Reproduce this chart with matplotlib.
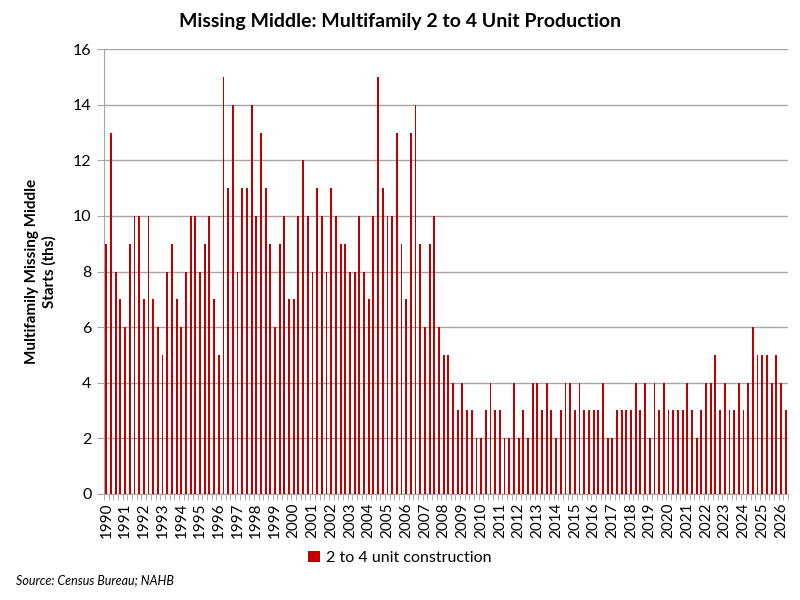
import matplotlib
matplotlib.use("Agg")
import matplotlib.pyplot as plt
import numpy as np

plt.rcParams['font.family'] = ['Lato', 'DejaVu Sans']

years = list(range(1990, 2027))
values = [
    9, 13, 8, 7,      # 1990
    6, 9, 10, 10,     # 1991
    7, 10, 7, 6,      # 1992
    5, 8, 9, 7,       # 1993
    6, 8, 10, 10,     # 1994
    8, 9, 10, 7,      # 1995
    5, 15, 11, 14,    # 1996
    8, 11, 11, 14,    # 1997
    10, 13, 11, 9,    # 1998
    6, 9, 10, 7,      # 1999
    7, 10, 12, 10,    # 2000
    8, 11, 10, 8,     # 2001
    11, 10, 9, 9,     # 2002
    8, 8, 10, 8,      # 2003
    7, 10, 15, 11,    # 2004
    10, 10, 13, 9,    # 2005
    7, 13, 14, 9,     # 2006
    6, 9, 10, 6,      # 2007
    5, 5, 4, 3,       # 2008
    4, 3, 3, 2,       # 2009
    2, 3, 4, 3,       # 2010
    3, 2, 2, 4,       # 2011
    2, 3, 2, 4,       # 2012
    4, 3, 4, 3,       # 2013
    2, 3, 4, 4,       # 2014
    3, 4, 3, 3,       # 2015
    3, 3, 4, 2,       # 2016
    2, 3, 3, 3,       # 2017
    3, 4, 3, 4,       # 2018
    2, 4, 3, 4,       # 2019
    3, 3, 3, 3,       # 2020
    4, 3, 2, 3,       # 2021
    4, 4, 5, 3,       # 2022
    4, 3, 3, 4,       # 2023
    3, 4, 6, 5,       # 2024
    5, 5, 4, 5,       # 2025
    4, 3,             # 2026
]
series_name = "2 to 4 unit construction"

fig = plt.figure(figsize=(8, 6), dpi=100)
ax = fig.add_axes([0.13, 0.177, 0.855, 0.741])

x = np.arange(len(values))
ax.bar(x, values, width=0.4, color="#C00000", label=series_name, zorder=3)

ax.set_xlim(-0.5, len(values) - 0.5)
ax.set_ylim(0, 16)
ax.set_yticks(np.arange(0, 17, 2))
ax.yaxis.grid(True, color="#A6A6A6", linewidth=1.0, zorder=0)
ax.tick_params(axis='y', length=5, color="#A6A6A6", labelsize=11.5, pad=4)

ax.set_xticks(np.arange(0, len(values), 4))
ax.set_xticklabels([str(y) for y in years], rotation=90, fontsize=11)
ax.set_xticks(np.arange(-0.5, len(values), 1), minor=True)
ax.tick_params(axis='x', which='major', length=0, pad=6)
ax.tick_params(axis='x', which='minor', length=4, color="#A6A6A6")

for s in ['top', 'right']:
    ax.spines[s].set_visible(False)
for s in ['left', 'bottom']:
    ax.spines[s].set_color("#A6A6A6")

ax.set_ylabel("Multifamily Missing Middle\nStarts (ths)", fontsize=11, fontweight='bold', labelpad=12)
fig.text(0.5, 0.965, "Missing Middle: Multifamily 2 to 4 Unit Production",
         ha='center', va='center', fontsize=14, fontweight='bold')

leg = fig.legend(loc='center', bbox_to_anchor=(0.5, 0.07), frameon=False, fontsize=11.5,
                 handlelength=0.7, handleheight=0.7, handletextpad=0.4)
fig.text(0.02, 0.033, "Source: Census Bureau; NAHB", fontsize=9, style='italic', ha='left', va='center')

fig.savefig("out.png", dpi=100)
